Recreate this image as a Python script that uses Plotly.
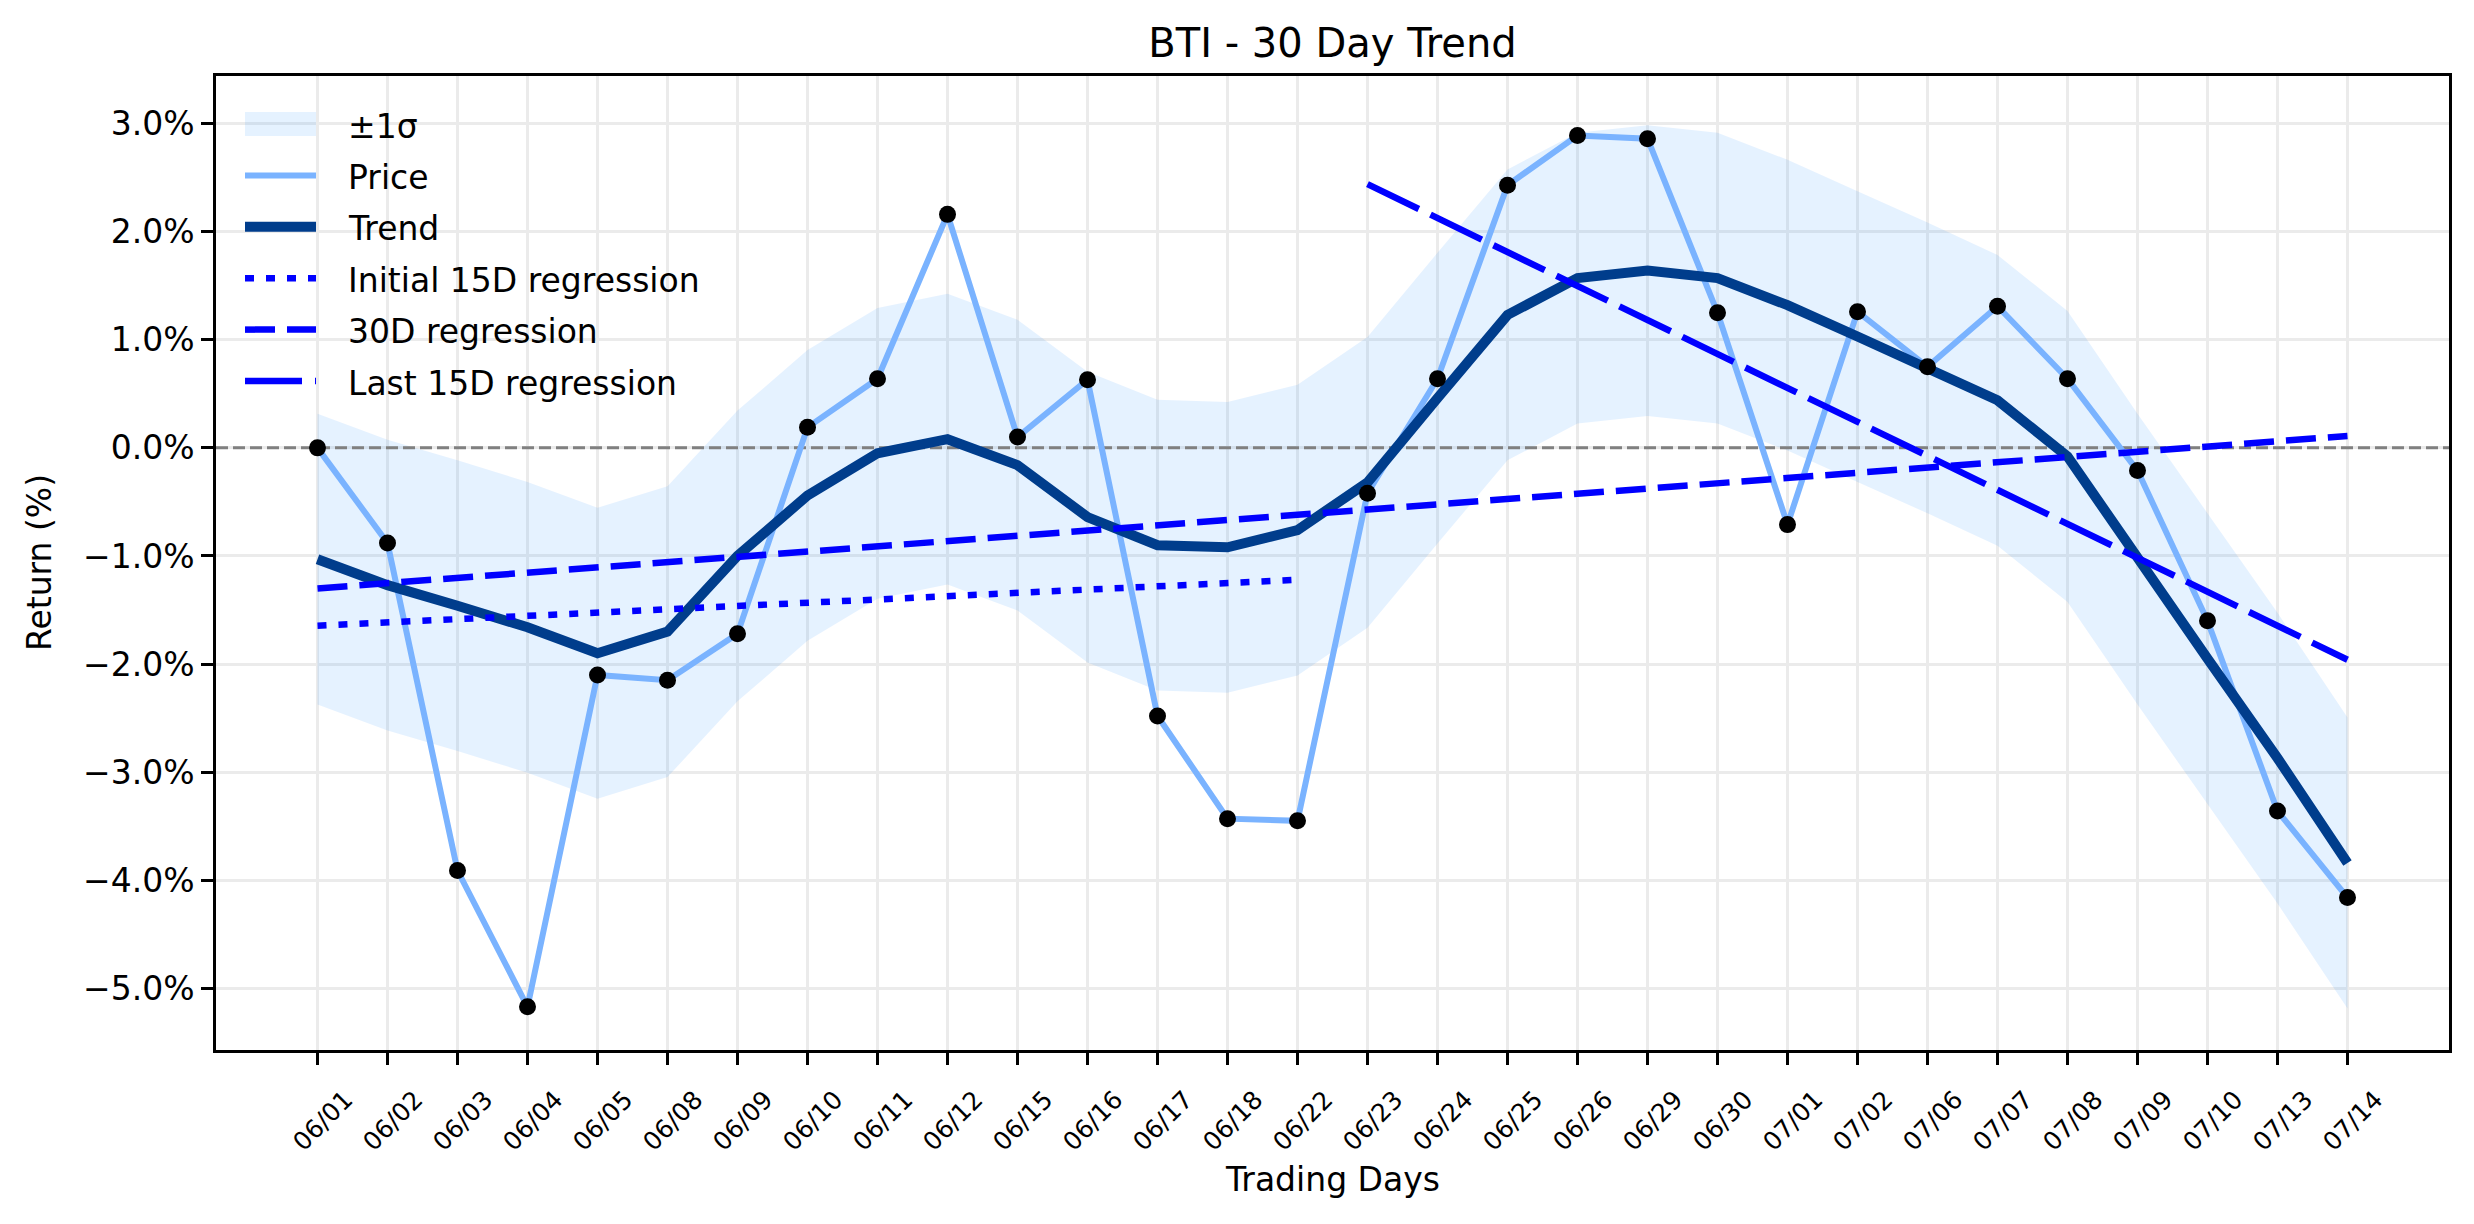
import plotly.graph_objects as go

# ---------------- data ----------------
dates = ["06/01", "06/02", "06/03", "06/04", "06/05", "06/08", "06/09", "06/10",
         "06/11", "06/12", "06/15", "06/16", "06/17", "06/18", "06/22", "06/23",
         "06/24", "06/25", "06/26", "06/29", "06/30", "07/01", "07/02", "07/06",
         "07/07", "07/08", "07/09", "07/10", "07/13", "07/14"]

price = [0.00, -0.88, -3.91, -5.17, -2.10, -2.15, -1.72, 0.19, 0.64, 2.16,
         0.10, 0.63, -2.48, -3.43, -3.45, -0.42, 0.64, 2.43, 2.89, 2.86,
         1.25, -0.71, 1.26, 0.75, 1.31, 0.64, -0.21, -1.60, -3.36, -4.16]

trend = [-1.03, -1.27, -1.46, -1.66, -1.90, -1.70, -1.00, -0.44, -0.05, 0.08,
         -0.16, -0.64, -0.90, -0.92, -0.76, -0.32, 0.46, 1.23, 1.57, 1.64,
         1.57, 1.32, 1.03, 0.74, 0.44, -0.08, -1.03, -1.95, -2.87, -3.84]

band_upper = [0.315, 0.075, -0.115, -0.315, -0.555, -0.355, 0.345, 0.905, 1.295, 1.425,
              1.185, 0.705, 0.445, 0.425, 0.585, 1.025, 1.805, 2.575, 2.915, 2.985,
              2.915, 2.665, 2.375, 2.085, 1.785, 1.265, 0.315, -0.605, -1.525, -2.495]

band_lower = [-2.375, -2.615, -2.805, -3.005, -3.245, -3.045, -2.345, -1.785, -1.395, -1.265,
              -1.505, -1.985, -2.245, -2.265, -2.105, -1.665, -0.885, -0.115, 0.225, 0.295,
              0.225, -0.025, -0.315, -0.605, -0.905, -1.425, -2.375, -3.295, -4.215, -5.185]

init_reg_dates = ["06/01", "06/22"]
init_reg_y = [-1.645, -1.22]
full_reg_dates = ["06/01", "07/14"]
full_reg_y = [-1.30, 0.11]
last_reg_dates = ["06/23", "07/14"]
last_reg_y = [2.44, -1.96]

zero_level = [0.0, 0.0]

y_ticks = [-5, -4, -3, -2, -1, 0, 1, 2, 3]
y_tick_labels = ["\u22125.0%", "\u22124.0%", "\u22123.0%", "\u22122.0%", "\u22121.0%",
                 "0.0%", "1.0%", "2.0%", "3.0%"]

legend_labels = ["±1σ", "Price", "Trend", "Initial 15D regression",
                 "30D regression", "Last 15D regression"]

# ---------------- positions on the day axis ----------------
x_idx = list(range(len(dates)))
x_range = [-1.45, len(dates) - 1 + 1.45]


def idx(ds):
    return [dates.index(d) for d in ds]


# ---------------- layout helpers ----------------
W, H = 2474, 1224
L, R, T, B = 216, 25, 76, 174
PW, PH = W - L - R, H - T - B


def px(x):
    return (x - L) / PW


def py(y):
    return (H - B - y) / PH


FONT = "DejaVu Sans"
BAND = "rgba(0,128,255,0.10)"
PRICE_C = "#7ab3ff"
TREND_C = "#003d8c"
REG_C = "#0000ff"
GRID_C = "#ebebeb"

DOT = "9px,12px"
DASH = "30px,12px"
LONGDASH = "57px,13px"

fig = go.Figure()

fig.add_trace(go.Scatter(x=x_idx, y=band_lower, mode="lines",
                         line=dict(width=0, color=BAND), showlegend=False,
                         hoverinfo="skip"))
fig.add_trace(go.Scatter(x=x_idx, y=band_upper, mode="lines",
                         line=dict(width=0, color=BAND), fill="tonexty",
                         fillcolor=BAND, name=legend_labels[0], showlegend=False))
fig.add_trace(go.Scatter(x=x_range, y=zero_level, mode="lines",
                         line=dict(color="#808080", width=3, dash="12px,5px"),
                         showlegend=False, hoverinfo="skip"))
fig.add_trace(go.Scatter(x=x_idx, y=price, mode="lines",
                         line=dict(color=PRICE_C, width=6),
                         name=legend_labels[1], showlegend=False))
fig.add_trace(go.Scatter(x=x_idx, y=trend, mode="lines",
                         line=dict(color=TREND_C, width=10),
                         name=legend_labels[2], showlegend=False))
fig.add_trace(go.Scatter(x=idx(init_reg_dates), y=init_reg_y, mode="lines",
                         line=dict(color=REG_C, width=6.5, dash=DOT),
                         name=legend_labels[3], showlegend=False))
fig.add_trace(go.Scatter(x=idx(full_reg_dates), y=full_reg_y, mode="lines",
                         line=dict(color=REG_C, width=6.5, dash=DASH),
                         name=legend_labels[4], showlegend=False))
fig.add_trace(go.Scatter(x=idx(last_reg_dates), y=last_reg_y, mode="lines",
                         line=dict(color=REG_C, width=6.5, dash=LONGDASH),
                         name=legend_labels[5], showlegend=False))
fig.add_trace(go.Scatter(x=x_idx, y=price, mode="markers",
                         marker=dict(color="black", size=17, line=dict(width=0)),
                         showlegend=False))

shapes = []

# manual legend (symbols as shapes, labels as text)
leg_y0, leg_step = 124, 51.4
sym_x0, sym_x1, text_x = 245, 316, 346
annotations = []
for i, lab in enumerate(legend_labels):
    yc = leg_y0 + i * leg_step
    if i == 0:
        shapes.append(dict(type="rect", xref="paper", yref="paper",
                           x0=px(sym_x0), x1=px(sym_x1), y0=py(yc - 12), y1=py(yc + 12),
                           fillcolor=BAND, line=dict(width=0)))
    else:
        style = {
            1: dict(color=PRICE_C, width=6),
            2: dict(color=TREND_C, width=10),
            3: dict(color=REG_C, width=6.5, dash=DOT),
            4: dict(color=REG_C, width=6.5, dash=DASH),
            5: dict(color=REG_C, width=6.5, dash=LONGDASH),
        }[i]
        shapes.append(dict(type="line", xref="paper", yref="paper",
                           x0=px(sym_x0), x1=px(sym_x1), y0=py(yc), y1=py(yc),
                           line=style))
    annotations.append(dict(text=lab, xref="paper", yref="paper",
                            x=px(text_x), y=py(yc + 2), xanchor="left", yanchor="middle",
                            showarrow=False, font=dict(family=FONT, size=33, color="black")))

# axis titles
annotations.append(dict(text="Trading Days", xref="paper", yref="paper",
                        x=0.5, y=py(1179), xanchor="center", yanchor="middle",
                        showarrow=False, font=dict(family=FONT, size=33, color="black")))
annotations.append(dict(text="Return (%)", xref="paper", yref="paper",
                        x=px(39), y=py(563), xanchor="center", yanchor="middle",
                        textangle=-90, showarrow=False,
                        font=dict(family=FONT, size=33, color="black")))

fig.update_layout(
    width=W, height=H,
    margin=dict(l=L, r=R, t=T, b=B),
    paper_bgcolor="white", plot_bgcolor="white",
    font=dict(family=FONT, color="black"),
    title=dict(text="BTI - 30 Day Trend", x=0.5, xref="paper", xanchor="center",
               y=1 - 43 / H, yref="container", yanchor="middle",
               font=dict(family=FONT, size=40, color="black")),
    showlegend=False,
    shapes=shapes,
    annotations=annotations,
)

fig.update_xaxes(
    range=x_range,
    tickmode="array", tickvals=x_idx, ticktext=dates,
    showgrid=True, gridcolor=GRID_C, gridwidth=2.7,
    showline=True, linecolor="black", linewidth=2.7, mirror=True,
    ticks="outside", ticklen=12, tickwidth=2.7, tickcolor="black",
    tickangle=-45, tickfont=dict(family=FONT, size=25, color="black"),
    ticklabelshift=28, ticklabelstandoff=10,
    zeroline=False,
)

fig.update_yaxes(
    range=[-5.57, 3.44],
    tickmode="array", tickvals=y_ticks, ticktext=y_tick_labels,
    showgrid=True, gridcolor=GRID_C, gridwidth=2.7,
    showline=True, linecolor="black", linewidth=2.7, mirror=True,
    ticks="outside", ticklen=12, tickwidth=2.7, tickcolor="black",
    tickfont=dict(family=FONT, size=33, color="black"),
    zeroline=False,
)

fig.write_html("out.html")
